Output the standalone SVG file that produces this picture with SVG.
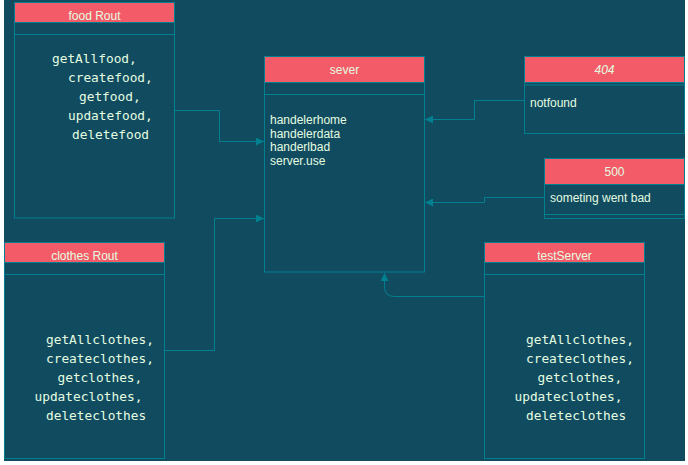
<svg xmlns="http://www.w3.org/2000/svg" width="688" height="465" viewBox="0 0 688 465">
<defs>
<marker id="arr" viewBox="0 0 10 10" refX="10" refY="5" markerWidth="8" markerHeight="8" markerUnits="userSpaceOnUse" orient="auto">
<path d="M0,0 L10,5 L0,10 Z" fill="#028090"/>
</marker>
</defs>
<style>
.box{fill:#114B5F;stroke:#028090;stroke-width:1}
.hdr{fill:#F45B69;stroke:#028090;stroke-width:1}
.ln{stroke:#028090;stroke-width:1;fill:none}
.t{font-family:"Liberation Sans",Arial,sans-serif;font-size:12px;fill:#E4FDE1}
.h{text-anchor:middle}
.m{font-family:"DejaVu Sans Mono","Liberation Mono",monospace;font-size:12.8px;fill:#E4FDE1}
.c{stroke:#028090;stroke-width:1;fill:none;marker-end:url(#arr)}
</style>
<rect x="0" y="0" width="688" height="465" fill="#ffffff"/>
<rect x="4" y="0" width="681" height="461" fill="#114B5F"/>

<g id="food-rout">
<rect class="box" x="14.5" y="2.5" width="160" height="215.5"/>
<rect class="hdr" x="14.5" y="2.5" width="160" height="20"/>
<line class="ln" x1="14.5" y1="34.5" x2="174.5" y2="34.5"/>
<text class="t h" x="94.5" y="19.5">food Rout</text>
<text class="m" x="52" y="63">getAllfood,</text>
<text class="m" x="68" y="82">createfood,</text>
<text class="m" x="79" y="101">getfood,</text>
<text class="m" x="68" y="120">updatefood,</text>
<text class="m" x="72" y="139">deletefood</text>
</g>

<g id="sever">
<rect class="box" x="264.5" y="56.5" width="160" height="215.5"/>
<rect class="hdr" x="264.5" y="56.5" width="160" height="26"/>
<line class="ln" x1="264.5" y1="94.5" x2="424.5" y2="94.5"/>
<text class="t h" x="344.5" y="74">sever</text>
<text class="t" x="270" y="124">handelerhome</text>
<text class="t" x="270" y="137.7">handelerdata</text>
<text class="t" x="270" y="151.4">handerlbad</text>
<text class="t" x="270" y="165.1">server.use</text>
</g>

<g id="n404">
<rect class="box" x="524.5" y="56.5" width="160" height="77"/>
<rect class="hdr" x="524.5" y="56.5" width="160" height="26"/>
<line class="ln" x1="524.5" y1="85" x2="684.5" y2="85"/>
<text class="t h" x="604.5" y="74" font-style="italic">404</text>
<text class="t" x="530" y="107">notfound</text>
</g>

<g id="n500">
<rect class="box" x="544.5" y="158.5" width="140" height="60"/>
<rect class="hdr" x="544.5" y="158.5" width="140" height="26"/>
<line class="ln" x1="544.5" y1="214.5" x2="684.5" y2="214.5"/>
<text class="t h" x="614.5" y="176">500</text>
<text class="t" x="550" y="202">someting went bad</text>
</g>

<g id="clothes-rout">
<rect class="box" x="4.5" y="242.5" width="160" height="216"/>
<rect class="hdr" x="4.5" y="242.5" width="160" height="20"/>
<line class="ln" x1="4.5" y1="274.5" x2="164.5" y2="274.5"/>
<text class="t h" x="84.5" y="259.5">clothes Rout</text>
<text class="m" x="46" y="344">getAllclothes,</text>
<text class="m" x="46" y="363">createclothes,</text>
<text class="m" x="57.5" y="382">getclothes,</text>
<text class="m" x="34.5" y="401">updateclothes,</text>
<text class="m" x="46" y="420">deleteclothes</text>
</g>

<g id="testServer">
<rect class="box" x="484.5" y="242.5" width="160" height="216"/>
<rect class="hdr" x="484.5" y="242.5" width="160" height="20"/>
<line class="ln" x1="484.5" y1="274.5" x2="644.5" y2="274.5"/>
<text class="t h" x="564.5" y="259.5">testServer</text>
<text class="m" x="526" y="344">getAllclothes,</text>
<text class="m" x="526" y="363">createclothes,</text>
<text class="m" x="537.5" y="382">getclothes,</text>
<text class="m" x="514.5" y="401">updateclothes,</text>
<text class="m" x="526" y="420">deleteclothes</text>
</g>

<g id="connectors">
<path class="c" d="M174.5,110.5 H219.5 V141.5 H264"/>
<path class="c" d="M164.5,350.5 H214.5 V218.5 H264"/>
<path class="c" d="M524.5,100.5 H474.5 V119.5 H425"/>
<path class="c" d="M544.5,197.5 H484.5 V202.5 H425"/>
<path class="c" d="M484.5,296.5 H394.5 Q384.5,296.5 384.5,286.5 V273"/>
</g>
</svg>
